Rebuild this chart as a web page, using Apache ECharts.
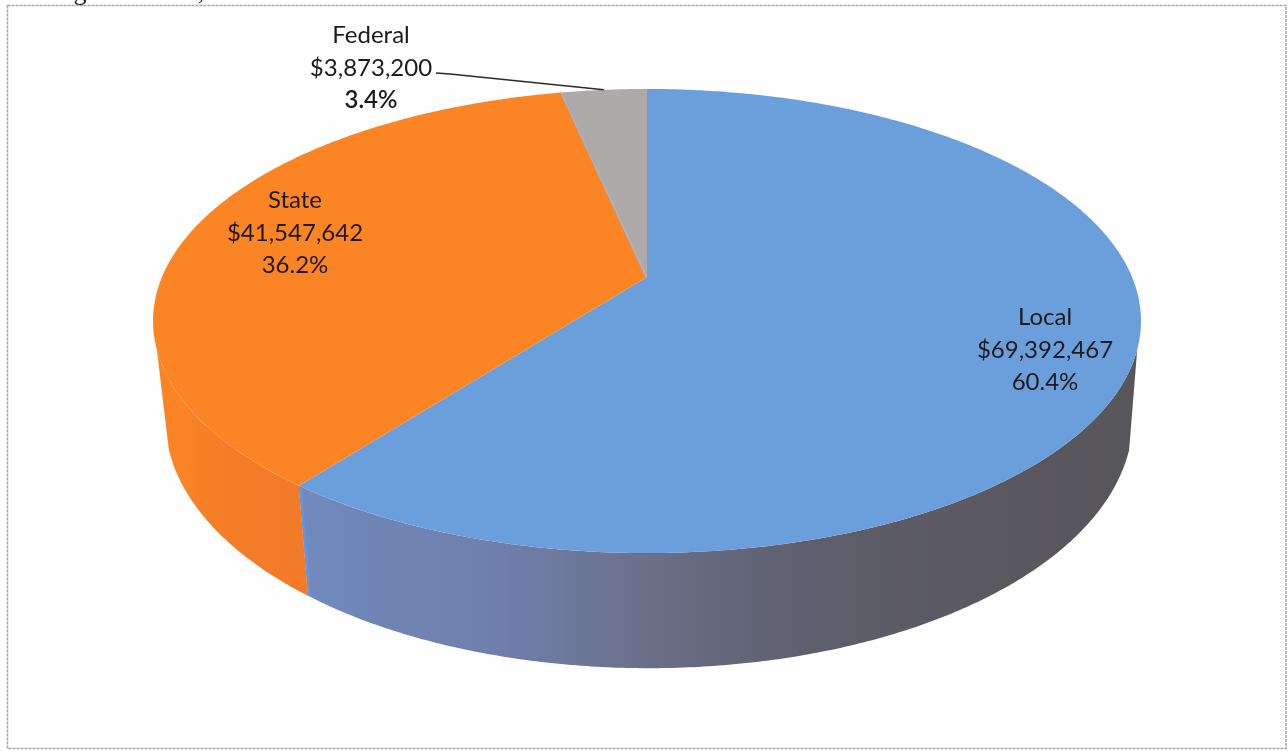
<!DOCTYPE html>
<html lang="en">
<head>
<meta charset="utf-8">
<title>Revenue by source</title>
<style>
  html, body { margin: 0; padding: 0; background: #fff; }
  #chart { width: 1288px; height: 752px; }
</style>
<script src="https://cdn.jsdelivr.net/npm/echarts@6/dist/echarts.min.js"></script>
</head>
<body>
<div id="chart"></div>
<script>
// Revenue by source
const categories = ['Local', 'State', 'Federal'];
const amounts = [69392467, 41547642, 3873200];

const total = amounts.reduce((a, b) => a + b, 0);

// Perspective disc: the pie is tilted, so its centre sits above the middle of the ellipse.
const topPlane = { cx: 647, cy: 277, a: 485, b: 223.7, k: 0.1897 };
const basePlane = { cx: 649, cy: 372, a: 475, b: 240, k: 0.1897 };
const WALL_FROM = 107.8 * Math.PI / 180;
const WALL_TO = 252.2 * Math.PI / 180;

const topColors = { Local: '#6a9fdc', State: '#fb8524', Federal: '#aeaaa9' };
const wallStops = {
  Local: [[0, '#7189bd'], [0.24, '#6f7fab'], [0.42, '#6a6f87'], [0.6, '#5e5f6e'], [0.84, '#5a585f'], [1, '#57565a']],
  State: [[0, '#fb8524'], [0.2, '#f98326'], [0.5, '#f37c26'], [1, '#f27b2a']]
};
const wallSpan = { Local: [300, 1140], State: [155, 310] };

// Label anchors (centre of each three-line block) and line pitch
const labelAnchor = { Local: [1045, 350], State: [295, 233], Federal: [371, 68] };
const LINE_PITCH = 32.5;
const LABEL_FONT = '24px Lato, "Open Sans", sans-serif';
const LABEL_COLOR = '#1d1a1c';

function project(plane, theta) {
  const u = Math.sin(theta), v = Math.cos(theta);
  const w = 1 + plane.k * v;
  return [plane.cx + plane.a * u / w, plane.cy - plane.b * v / w];
}

function arc(plane, from, to) {
  const steps = Math.max(2, Math.ceil(Math.abs(to - from) / (Math.PI / 360)));
  const pts = [];
  for (let i = 0; i <= steps; i++) {
    pts.push(project(plane, from + (to - from) * i / steps));
  }
  return pts;
}

function formatAmount(value) {
  return '$' + value.toLocaleString('en-US');
}

function formatShare(value) {
  return (value / total * 100).toFixed(1) + '%';
}

function sliceAngles(index) {
  const before = amounts.slice(0, index).reduce((a, b) => a + b, 0);
  const toAngle = (x) => echarts.number.linearMap(x, [0, total], [0, Math.PI * 2]);
  return [toAngle(before), toAngle(before + amounts[index])];
}

function renderSlice(params, api) {
  const i = params.dataIndex;
  const name = categories[i];
  const value = api.value(0);
  const [from, to] = sliceAngles(i);
  const children = [];

  // Side wall: only the part that faces the viewer
  const wFrom = Math.max(from, WALL_FROM);
  const wTo = Math.min(to, WALL_TO);
  if (wTo > wFrom) {
    const pts = arc(topPlane, wFrom, wTo).concat(arc(basePlane, wTo, wFrom));
    const span = wallSpan[name];
    children.push({
      type: 'polygon',
      shape: { points: pts },
      style: {
        fill: new echarts.graphic.LinearGradient(span[0], 0, span[1], 0,
          wallStops[name].map(([offset, color]) => ({ offset, color })), true)
      }
    });
  }

  // Lit edge where the Local wall begins
  if (name === 'Local') {
    const p = project(topPlane, to), q = project(basePlane, to);
    children.push({
      type: 'line',
      shape: { x1: p[0] + 1.5, y1: p[1] + 2, x2: q[0] + 1.5, y2: q[1] },
      style: { stroke: '#6396da', lineWidth: 3 }
    });
  }

  // Top face
  children.push({
    type: 'polygon',
    shape: { points: [[topPlane.cx, topPlane.cy]].concat(arc(topPlane, from, to)) },
    style: { fill: topColors[name] }
  });

  // Faint blue fringe along the Federal / State edge
  if (name === 'Federal') {
    const e = project(topPlane, from);
    children.push({
      type: 'line',
      shape: { x1: topPlane.cx - 1, y1: topPlane.cy, x2: e[0], y2: e[1] },
      style: { stroke: '#a3b2cc', lineWidth: 1.5 }
    });
  }

  // Leader line for the Federal label
  if (name === 'Federal') {
    const end = project(topPlane, (from + to) / 2);
    children.push({
      type: 'polyline',
      shape: { points: [[436, 73], [450, 74], end] },
      style: { stroke: '#2b2a2c', lineWidth: 1.5, fill: null }
    });
  }

  // Three-line label: name, amount, share
  const [lx, ly] = labelAnchor[name];
  [name, formatAmount(value), formatShare(value)].forEach((line, n) => {
    children.push({
      type: 'text',
      z2: 10,
      style: {
        text: line,
        x: lx,
        y: ly + (n - 1) * LINE_PITCH,
        align: 'center',
        verticalAlign: 'middle',
        font: (name === 'Federal' && n === 2) ? '600 ' + LABEL_FONT : LABEL_FONT,
        fill: LABEL_COLOR
      }
    });
  });

  return { type: 'group', children };
}

const chart = echarts.init(document.getElementById('chart'), null, { renderer: 'canvas' });
chart.setOption({
  animation: false,
  backgroundColor: '#ffffff',
  graphic: [
    {
      type: 'rect',
      silent: true,
      shape: { x: 7.5, y: 5.5, width: 1278.5, height: 743 },
      style: { fill: '#fefefe', stroke: '#a6a6a6', lineWidth: 1.5, lineDash: [3, 1] }
    },
    // Tails of the line of body text that runs off the top of the page
    {
      type: 'text',
      silent: true,
      style: { text: 'g', x: 80, y: 6, align: 'center', verticalAlign: 'bottom',
        font: '26px "Liberation Serif", serif', fill: '#222' }
    },
    {
      type: 'text',
      silent: true,
      style: { text: ',', x: 201, y: 6, align: 'center', verticalAlign: 'bottom',
        font: '26px "Liberation Serif", serif', fill: '#222' }
    }
  ],
  series: [{
    type: 'custom',
    coordinateSystem: 'none',
    silent: true,
    z: 5,
    data: amounts.map((value, i) => ({ name: categories[i], value: [value] })),
    renderItem: renderSlice
  }]
});
</script>
</body>
</html>
